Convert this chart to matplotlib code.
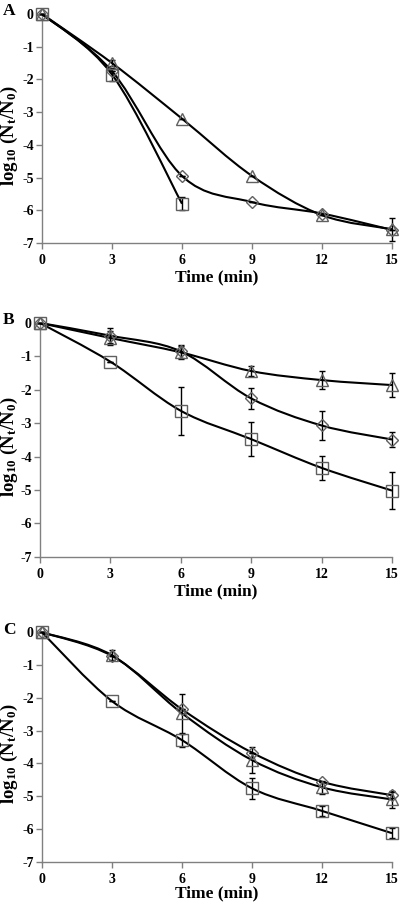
# Survival curves, three panels (A, B, C)

import numpy as np
import matplotlib
matplotlib.use('Agg')
import matplotlib.pyplot as plt
from matplotlib.path import Path
from matplotlib.patches import PathPatch
from matplotlib.transforms import blended_transform_factory

plt.rcParams['font.family'] = ['Liberation Serif', 'DejaVu Serif']
plt.rcParams['font.weight'] = 'bold'
plt.rcParams['axes.unicode_minus'] = False
plt.rcParams['mathtext.fontset'] = 'custom'
plt.rcParams['mathtext.rm'] = 'Liberation Serif:bold'
plt.rcParams['mathtext.it'] = 'Liberation Serif:bold'
plt.rcParams['mathtext.bf'] = 'Liberation Serif:bold'

# Data
time = [0, 3, 6, 9, 12, 15]

# panel A
a_square = [0, -1.85, -5.8]
a_square_err = [0, 0.2, 0.2]
a_diamond = [0, -1.75, -4.95, -5.75, -6.1, -6.6]
a_diamond_err = [0, 0, 0, 0, 0, 0]
a_triangle = [0, -1.5, -3.2, -4.95, -6.15, -6.58]
a_triangle_err = [0, 0.1, 0, 0, 0, 0.35]

# panel B
b_square = [0, -1.16, -2.63, -3.48, -4.34, -5.02]
b_square_err = [0, 0, 0.72, 0.5, 0.35, 0.56]
b_diamond = [0, -0.38, -0.85, -2.26, -3.07, -3.49]
b_diamond_err = [0, 0.23, 0.2, 0.32, 0.42, 0.23]
b_triangle = [0, -0.45, -0.88, -1.44, -1.71, -1.86]
b_triangle_err = [0, 0.2, 0.2, 0.15, 0.27, 0.36]

# panel C
c_square = [0, -2.1, -3.29, -4.76, -5.45, -6.13]
c_square_err = [0, 0, 0.2, 0.32, 0.15, 0.15]
c_diamond = [0, -0.72, -2.35, -3.67, -4.56, -4.97]
c_diamond_err = [0, 0, 0, 0, 0, 0.1]
c_triangle = [0, -0.7, -2.47, -3.9, -4.73, -5.1]
c_triangle_err = [0, 0.15, 0.6, 0.4, 0.2, 0.25]

panels = [
    ('A', [(a_square, a_square_err, 's'), (a_diamond, a_diamond_err, 'D'), (a_triangle, a_triangle_err, '^')]),
    ('B', [(b_square, b_square_err, 's'), (b_diamond, b_diamond_err, 'D'), (b_triangle, b_triangle_err, '^')]),
    ('C', [(c_square, c_square_err, 's'), (c_diamond, c_diamond_err, 'D'), (c_triangle, c_triangle_err, '^')]),
]

# axes rectangles in figure fraction (left, bottom, width, height)
rects = [
    (0.105, 0.7324, 0.875, 0.2522),
    (0.100, 0.3869, 0.880, 0.2574),
    (0.105, 0.0510, 0.875, 0.2526),
]
letter_y = [0.997, 0.656, 0.315]
xlabel_pad = [2, 2, 0]

marker_size = {'s': 8, 'D': 6.5, '^': 9}


def smooth_path(x, y):
    # Excel-style smoothed line: cubic Bezier through each point
    pts = np.column_stack([x, y]).astype(float)
    n = len(pts)
    verts = [pts[0]]
    codes = [Path.MOVETO]
    for i in range(n - 1):
        p0 = pts[i - 1] if i > 0 else pts[i]
        p1 = pts[i]
        p2 = pts[i + 1]
        p3 = pts[i + 2] if i + 2 < n else pts[i + 1]
        c1 = p1 + (p2 - p0) / 6
        c2 = p2 - (p3 - p1) / 6
        verts += [c1, c2, p2]
        codes += [Path.CURVE4] * 3
    return Path(verts, codes)


fig = plt.figure(figsize=(4, 9.08), dpi=100)

for (letter, series), rect, ly, lp in zip(panels, rects, letter_y, xlabel_pad):
    ax = fig.add_axes(rect)
    for vals, err, m in series:
        t = time[:len(vals)]
        ax.add_patch(PathPatch(smooth_path(t, vals), facecolor='none',
                               edgecolor='black', lw=1.5, zorder=3))
        ax.errorbar(t, vals, yerr=err, fmt='none', ecolor='black',
                    elinewidth=1.0, capsize=2, capthick=1.0, zorder=4,
                    clip_on=False)
        ax.plot(t, vals, linestyle='none', marker=m, ms=marker_size[m],
                mfc='none', mec='#606060', mew=1.0, zorder=5, clip_on=False)

    ax.set_xlim(0, 15)
    ax.set_ylim(-7, 0)
    ax.set_xticks(time)
    ax.set_yticks(range(-7, 1))
    for s in ['top', 'right']:
        ax.spines[s].set_visible(False)
    for s in ['left', 'bottom']:
        ax.spines[s].set_color('#808080')
        ax.spines[s].set_linewidth(1.0)
    ax.tick_params(axis='both', direction='out', length=4, color='#808080',
                   labelsize=10, width=1.0, pad=2)
    ax.tick_params(axis='x', pad=4)
    for lab in ax.get_xticklabels() + ax.get_yticklabels():
        lab.set_fontweight('bold')
    ax.set_xlabel('Time (min)', fontsize=12.5, fontweight='bold', labelpad=lp)
    ax.set_ylabel(r'log$_{10}$ (N$_t$/N$_0$)', fontsize=13.5, fontweight='bold')
    ax.yaxis.set_label_coords(0.05, 0.47,
                              transform=blended_transform_factory(fig.transFigure, ax.transAxes))
    fig.text(0.008, ly, letter, fontsize=12.5, fontweight='bold', va='top')

fig.savefig('out.png', dpi=100)
